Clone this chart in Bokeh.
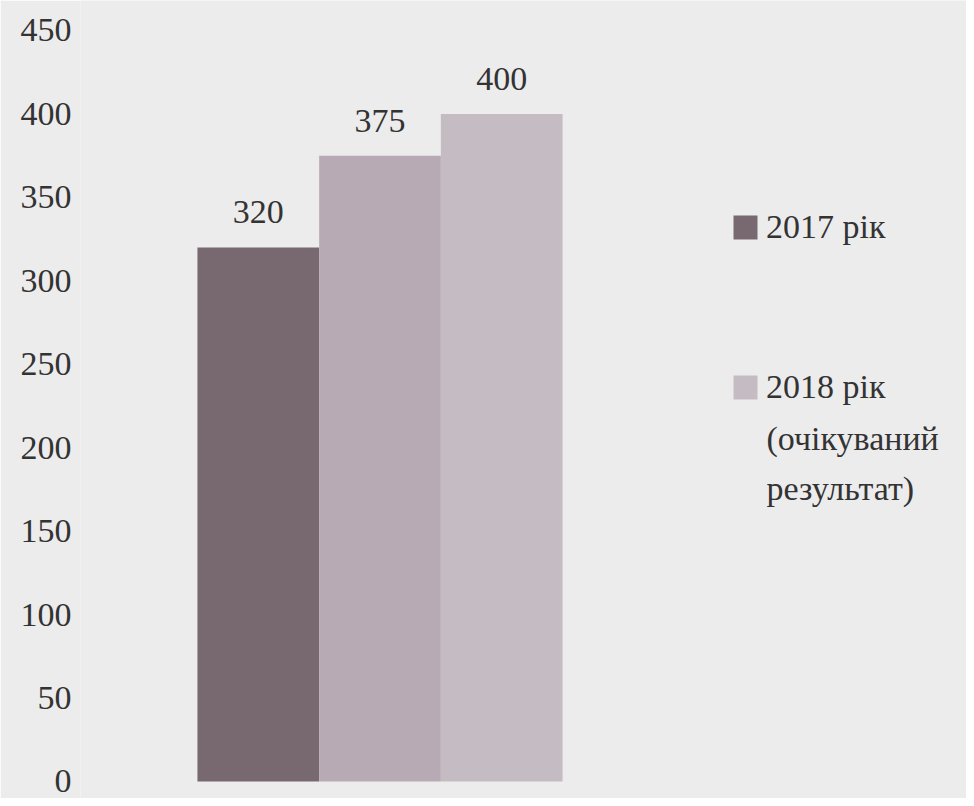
from bokeh.plotting import figure
from bokeh.models import ColumnDataSource, Range1d, Legend, LegendItem, FixedTicker, Label
from bokeh.core.properties import value
from bokeh.embed import file_html
from bokeh.resources import INLINE

# ---- data ----
series_labels = ["2017 рік", "", "2018 рік"]
legend_extra_lines = ["(очікуваний", "результат)"]
values = [320, 375, 400]
colors = ["#78686f", "#b8aab4", "#c4bcc2"]
y_ticks = [0, 50, 100, 150, 200, 250, 300, 350, 400, 450]

FONT = "Liberation Serif"
BG = "#ececec"
TXT = "#333333"

p = figure(width=966, height=798, output_backend="svg", toolbar_location=None,
           x_range=Range1d(-1.461, 5.819), y_range=Range1d(-10.19, 467.97),
           min_border_left=80, min_border_right=0, min_border_top=0, min_border_bottom=0,
           background_fill_color=BG, border_fill_color=BG, outline_line_color=None)

renderers = []
for i, (lab, v, c) in enumerate(zip(series_labels, values, colors)):
    src = ColumnDataSource(dict(x=[i], top=[v], txt=[str(v)]))
    r = p.vbar(x="x", top="top", bottom=0, width=1.0, source=src,
               fill_color=c, line_color=None)
    p.text(x="x", y="top", text="txt", source=src, text_align="center",
           text_baseline="alphabetic", y_offset=-35, text_font=value(FONT),
           text_font_size="34px", text_color=TXT)
    renderers.append((lab, r))

items = [LegendItem(label=lab, renderers=[r]) for lab, r in renderers if lab]
legend = Legend(items=items, location=(650, 392), orientation="vertical",
                background_fill_alpha=0, border_line_color=None,
                label_text_font=FONT, label_text_font_size="34px",
                label_text_color=TXT,
                glyph_width=30, glyph_height=30, label_standoff=6,
                spacing=122, padding=0, margin=0)
p.add_layout(legend)

for k, line in enumerate(legend_extra_lines):
    p.add_layout(Label(x=686, y=360 - 50 * k, x_units="screen", y_units="screen",
                       text=line, text_font=FONT, text_font_size="34px",
                       text_color=TXT, text_baseline="middle", text_align="left"))

p.xaxis.visible = False
p.xgrid.visible = False
p.ygrid.visible = False
p.yaxis.ticker = FixedTicker(ticks=y_ticks)
p.yaxis.axis_line_color = None
p.yaxis.major_tick_line_color = None
p.yaxis.minor_tick_line_color = None
p.yaxis.major_tick_out = 0
p.yaxis.major_tick_in = 0
p.yaxis.major_label_standoff = 9
p.yaxis.major_label_text_font = FONT
p.yaxis.major_label_text_font_size = "34px"
p.yaxis.major_label_text_color = TXT

open("out.html", "w").write(file_html(p, INLINE))
